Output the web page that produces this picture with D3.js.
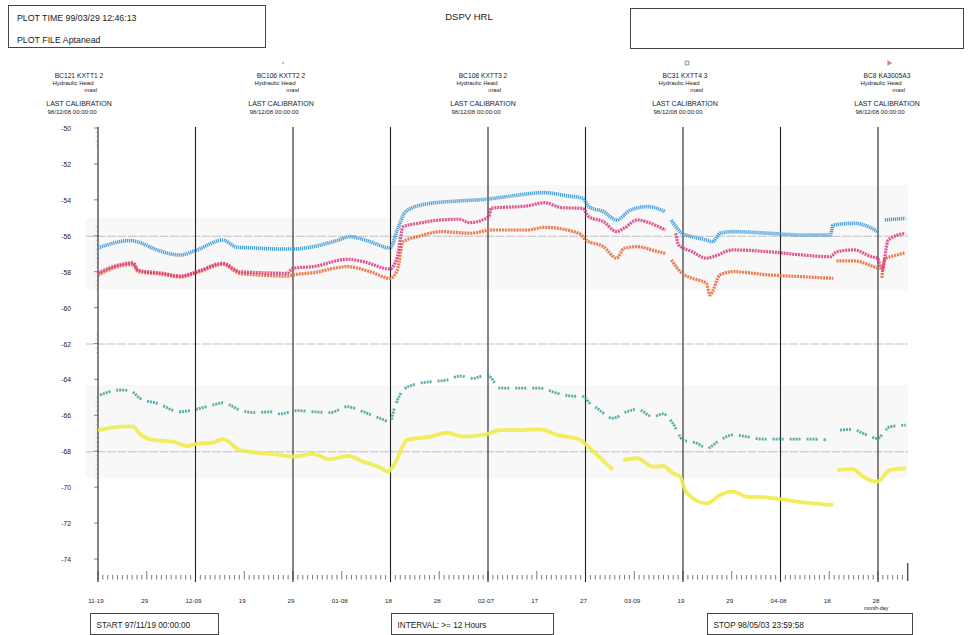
<!DOCTYPE html>
<html>
<head>
<meta charset="utf-8">
<script src="https://cdn.jsdelivr.net/npm/d3@7"></script>
<style>
  body { margin: 0; background: #fff; }
  svg { display: block; font-family: "Liberation Sans", Arial, sans-serif; }
</style>
</head>
<body>
<svg id="chart" width="970" height="635"></svg>
<script>
// ---- Data: hydraulic head (masl), day offsets from 1997-11-19 00:00 UTC ----
const DAY = 86400000;
const startDate = Date.UTC(1997, 10, 19);
const spanDays = 166;

const yTicks = [-50, -52, -54, -56, -58, -60, -62, -64, -66, -68, -70, -72, -74];
const refLevels = [-56, -62, -68];
const xTickDays = [0, 10, 20, 30, 40, 50, 60, 70, 80, 90, 100, 110, 120, 130, 140, 150, 160];
const xTickLabels = ["11-19", "29", "12-09", "19", "29", "01-08", "18", "28", "02-07",
                     "17", "27", "03-09", "19", "29", "04-08", "18", "28"];

const sectionNames = ["BC121 KXTT1 2", "BC106 KXTT2 2", "BC108 KXTT3 2", "BC31 KXTT4 3", "BC8 KA3005A3"];
const calibrationDates = ["98/12/08 00:00:00", "98/12/08 00:00:00", "98/12/08 00:00:00",
                          "98/12/08 00:00:00", "98/12/08 00:00:00"];

const headBlue = [[0,-56.68],[6.6,-56.27],[8,-56.33],[12.1,-56.79],[16.8,-57.07],[20.3,-56.79],
  [25.6,-56.24],[28.5,-56.64],[31.8,-56.68],[37.3,-56.74],[40,-56.74],[44.1,-56.61],[49,-56.27],
  [51.7,-56.05],[55.8,-56.33],[59.9,-56.68],[61.4,-55.68],[63.1,-54.66],[66.9,-54.25],[74.1,-54.06],
  [79.6,-53.97],[84.6,-53.79],[91.6,-53.6],[96.5,-53.79],[99.4,-53.91],[100.7,-54.38],[103.7,-54.66],
  [106.4,-55.12],[109.2,-54.57],[112.8,-54.38],[116.4,-54.66],[117,null],[117.6,-55.12],[119.8,-55.86],
  [121.9,-56.05],[124.8,-56.24],[126.1,-56.33],[127.6,-55.86],[130.3,-55.77],[137.5,-55.86],
  [144.5,-55.96],[150.2,-55.96],[150.8,-55.4],[155.1,-55.31],[158.7,-55.58],[159.9,-55.77],
  [160.4,null],[161.4,-55.12],[165.6,-55.03]];

const headMagenta = [[0,-58.07],[3.1,-57.72],[7.2,-57.5],[8.2,-57.91],[13.3,-58.09],[16.8,-58.24],
  [20.3,-58.0],[25.6,-57.53],[29.1,-58.0],[33.8,-58.06],[38.8,-58.09],[40,-57.81],[44.1,-57.72],
  [51.1,-57.31],[54.4,-57.44],[59.9,-57.85],[61.4,-57.17],[62.6,-55.5],[65.6,-55.31],[70.4,-55.12],
  [74.1,-55.08],[76.2,-55.27],[80.2,-54.94],[80.6,-54.47],[88,-54.34],[91.6,-54.16],[95.2,-54.44],
  [99.4,-54.47],[100.7,-54.94],[103.7,-55.22],[106.4,-55.77],[107.9,-55.58],[110.6,-55.12],
  [113.4,-55.31],[116.4,-55.68],[117.5,null],[118.5,-55.86],[119.1,-56.51],[121.9,-56.89],
  [124.8,-57.25],[126.1,-57.17],[130.3,-56.79],[137.5,-56.89],[144.5,-57.07],[150.2,-57.17],
  [151.5,-56.89],[155.1,-56.79],[158.7,-57.17],[159.9,-57.25],[160.8,-57.91],[162.1,-56.24],
  [165.6,-55.86]];

const headOrange = [[0,-58.2],[3.1,-57.8],[7.2,-57.6],[8.2,-58.0],[13.3,-58.15],[16.8,-58.3],
  [20.3,-58.05],[25.6,-57.6],[29.1,-58.1],[33.8,-58.2],[38.8,-58.25],[40,-58.18],[44.1,-58.06],
  [51.1,-57.72],[55.8,-58.0],[59.9,-58.37],[61.4,-57.91],[62.6,-56.33],[65.6,-56.05],[70.4,-55.77],
  [76.2,-55.86],[81,-55.68],[88,-55.68],[91.6,-55.53],[98.6,-55.86],[100.1,-56.24],[103.7,-56.61],
  [106.4,-57.25],[107.9,-56.7],[110.6,-56.61],[114.9,-56.89],[116.4,-56.98],[117,null],[117.6,-57.35],
  [119.8,-58.09],[121.9,-58.37],[124.8,-58.65],[125.5,-59.3],[127.6,-58.18],[130.3,-58.0],
  [137.5,-58.18],[144.5,-58.28],[150.8,-58.37],[151.1,null],[151.5,-57.4],[155.1,-57.4],
  [158.7,-57.68],[159.9,-57.8],[160.3,null],[160.8,-58.35],[161.4,-57.3],[163.5,-57.1],[165.6,-56.95]];

const headTeal = [[0.4,-64.87],[4.5,-64.59],[6.6,-64.63],[8.6,-65.05],[12.1,-65.33],[16.8,-65.8],
  [19.5,-65.7],[23.6,-65.42],[25.6,-65.3],[29.1,-65.7],[31.8,-65.85],[35.9,-65.8],[37.3,-65.92],
  [40.8,-65.74],[44.1,-65.8],[47.6,-65.85],[51.1,-65.52],[54.4,-65.8],[57.8,-66.16],[59.9,-66.35],
  [60.9,-65.52],[62.6,-64.59],[64.6,-64.31],[68.1,-64.13],[71.6,-64.03],[74.3,-63.81],[76.9,-63.94],
  [79.8,-63.75],[82.5,-64.48],[86.6,-64.49],[90.7,-64.49],[94.2,-64.77],[96.8,-64.92],[99.5,-64.96],
  [100.9,-65.33],[102.4,-65.61],[105.6,-66.16],[108.5,-65.8],[110.6,-65.66],[113.8,-66.07],
  [115.9,-65.92],[117.9,-66.44],[120,-67.37],[122.9,-67.56],[124.9,-67.83],[127.6,-67.37],
  [130.3,-67.09],[133.1,-67.19],[136.4,-67.33],[139.9,-67.33],[146.7,-67.33],[149.5,-67.37],
  [150.5,null],[152.2,-66.82],[154.9,-66.78],[156.9,-67.0],[159.8,-67.28],[162.5,-66.63],[165.7,-66.54]];

const headYellow = [[0,-66.82],[5.1,-66.63],[7.2,-66.63],[8.6,-67.04],[11.3,-67.37],[15.4,-67.47],
  [18.3,-67.71],[20.3,-67.59],[23.6,-67.52],[25.6,-67.33],[29.1,-67.93],[32.6,-68.08],[36.7,-68.17],
  [40,-68.3],[44.1,-68.15],[47.6,-68.45],[51.1,-68.26],[54.4,-68.58],[57.8,-68.89],[59.5,-69.14],
  [60.9,-68.67],[63.4,-67.37],[68.1,-67.19],[71.6,-66.97],[74.9,-67.19],[79.8,-67.04],[82.5,-66.82],
  [86.6,-66.82],[90.7,-66.78],[94.2,-67.09],[98.9,-67.37],[100.9,-67.83],[105.6,-69.04],[106.6,null],
  [107.7,-68.49],[110.6,-68.39],[113.8,-68.86],[115.9,-68.82],[117.9,-69.22],[119.4,-69.41],
  [120.8,-70.34],[124.9,-70.9],[127.6,-70.43],[130.3,-70.25],[133.1,-70.53],[136.4,-70.56],
  [139.9,-70.66],[143.4,-70.8],[146.7,-70.9],[150.8,-70.99],[151.2,null],[151.6,-69.04],
  [154.9,-69.0],[156.9,-69.41],[159.8,-69.69],[162.5,-69.04],[165.7,-68.95]];

// ---- Scales ----
const dateOf = d => new Date(startDate + d * DAY);
const x = d3.scaleUtc().domain([dateOf(0), dateOf(spanDays)]).range([98, 907.25]);
const y = d3.scaleLinear().domain([-50, -74]).range([128, 559]);
const svg = d3.select("#chart");
const ink = "#222";

// ---- Header ----
svg.append("rect").attr("x", 8.5).attr("y", 5.5).attr("width", 257).attr("height", 42)
  .attr("fill", "none").attr("stroke", "#444").attr("stroke-width", 1);
svg.append("text").attr("x", 17).attr("y", 21).attr("font-size", 8.8).attr("fill", ink)
  .text("PLOT TIME  99/03/29 12:46:13");
svg.append("text").attr("x", 17).attr("y", 43).attr("font-size", 8.8).attr("fill", ink)
  .text("PLOT FILE  Aptanead");
svg.append("text").attr("x", 469).attr("y", 20).attr("font-size", 9.5).attr("text-anchor", "middle")
  .attr("fill", ink).text("DSPV HRL");
svg.append("rect").attr("x", 630.5).attr("y", 8.5).attr("width", 333).attr("height", 40)
  .attr("fill", "none").attr("stroke", "#444").attr("stroke-width", 1);

// ---- Section headings ----
const headingSymbols = [d3.symbolPlus, d3.symbolCircle, null, d3.symbolSquare, d3.symbolTriangle];
const headingSymbolColors = ["#e8a0c0", "#bbb", null, "#777", "#e070c0"];
sectionNames.forEach((name, i) => {
  const cx = 79 + i * 202;
  const g = svg.append("g").attr("fill", ink);
  if (headingSymbols[i]) {
    const sym = d3.symbol().type(headingSymbols[i]).size(i === 1 ? 4 : 14);
    g.append("path").attr("d", sym())
      .attr("transform", `translate(${cx + 2},63)` + (i === 4 ? " rotate(90)" : ""))
      .attr("fill", i === 3 ? "none" : headingSymbolColors[i])
      .attr("stroke", i === 3 ? headingSymbolColors[i] : "none").attr("stroke-width", 0.8);
  }
  g.append("text").attr("x", cx).attr("y", 78).attr("font-size", 6.7).attr("text-anchor", "middle").text(name);
  g.append("text").attr("x", cx - 6).attr("y", 85).attr("font-size", 6).attr("text-anchor", "middle").text("Hydraulic Head");
  g.append("text").attr("x", cx + 18).attr("y", 92).attr("font-size", 6).attr("text-anchor", "end").text("masl");
  g.append("text").attr("x", cx).attr("y", 106).attr("font-size", 7).attr("text-anchor", "middle").text("LAST CALIBRATION");
  g.append("text").attr("x", cx - 7).attr("y", 114).attr("font-size", 6.1).attr("text-anchor", "middle").text(calibrationDates[i]);
});

// ---- Faint background bands behind the data groups ----
const bands = svg.append("g").attr("fill", "#f8f8f8");
bands.append("rect").attr("x", 85).attr("y", 218).attr("width", 306).attr("height", 71);
bands.append("rect").attr("x", 391).attr("y", 185).attr("width", 517).attr("height", 105);
bands.append("rect").attr("x", 85).attr("y", 385).attr("width", 823).attr("height", 93);

// ---- Reference levels ----
svg.append("g").selectAll("line").data(refLevels).join("line")
  .attr("x1", 86).attr("x2", 908).attr("y1", d => y(d) + 0.5).attr("y2", d => y(d) + 0.5)
  .attr("stroke", "#a6a6a6").attr("stroke-width", 0.7).attr("stroke-dasharray", "9,1.5");

// ---- Y axis ----
const yAxisG = svg.append("g");
yAxisG.selectAll("text").data(yTicks).join("text")
  .attr("x", 71).attr("y", d => y(d) + 3).attr("font-size", 6.8).attr("text-anchor", "end")
  .attr("fill", ink).text(d => d);
yAxisG.selectAll("line.major").data(yTicks).join("line").attr("class", "major")
  .attr("x1", 94).attr("x2", 98).attr("y1", d => y(d)).attr("y2", d => y(d))
  .attr("stroke", "#555").attr("stroke-width", 0.7);
const minorRanges = [[-50, -51], [-55.5, -59], [-61.5, -62.5], [-65, -69.5]];
const minorTicks = [];
minorRanges.forEach(([a, b]) => { for (let v = a; v >= b - 1e-9; v -= 0.25) minorTicks.push(v); });
yAxisG.selectAll("line.minor").data(minorTicks).join("line").attr("class", "minor")
  .attr("x1", 95.5).attr("x2", 98).attr("y1", d => y(d)).attr("y2", d => y(d))
  .attr("stroke", "#aaa").attr("stroke-width", 0.5);

// ---- X axis: daily ticks, 10-day labels, 20-day grid lines ----
const dayTicks = d3.range(0, spanDays);
svg.append("g").selectAll("line").data(dayTicks).join("line")
  .attr("x1", d => x(dateOf(d))).attr("x2", d => x(dateOf(d)))
  .attr("y1", d => d % 10 === 0 ? 571 : 575).attr("y2", 579.5)
  .attr("stroke", "#444").attr("stroke-width", 0.7);
svg.append("g").selectAll("line").data(xTickDays.filter(d => d % 20 === 0)).join("line")
  .attr("x1", d => x(dateOf(d))).attr("x2", d => x(dateOf(d)))
  .attr("y1", 127).attr("y2", 582)
  .attr("stroke", ink).attr("stroke-width", 1.1);
svg.append("line").attr("x1", x(dateOf(spanDays)) + 0.5).attr("x2", x(dateOf(spanDays)) + 0.5)
  .attr("y1", 563).attr("y2", 581).attr("stroke", ink).attr("stroke-width", 1.1);
svg.append("g").selectAll("text").data(xTickDays).join("text")
  .attr("x", d => x(dateOf(d)) - 2).attr("y", 603).attr("font-size", 6.2)
  .attr("text-anchor", "middle").attr("fill", ink)
  .text((d, i) => xTickLabels[i]);
svg.append("text").attr("x", x(dateOf(160)) - 2).attr("y", 610).attr("font-size", 5.2)
  .attr("text-anchor", "middle").attr("fill", ink).text("month-day");

// ---- Series ----
const line = d3.line()
  .defined(d => d[1] !== null)
  .x(d => x(dateOf(d[0])))
  .y(d => y(d[1]))
  .curve(d3.curveMonotoneX);

const series = [
  { data: headOrange,  color: "#ea6d3e", width: 3.2, dash: "2,0.9", opacity: 0.9 },
  { data: headMagenta, color: "#d82c78", width: 3.2, dash: "2,0.9", opacity: 0.8 },
  { data: headBlue,    color: "#3b98d6", width: 3.6, dash: "1.2,0.8", opacity: 0.95 },
  { data: headYellow,  color: "#efeb4a", width: 3.8, dash: null, opacity: 0.9 },
  { data: headTeal,    color: "#2f9a93", width: 2.8, dash: "2,1,2,1,2,1,2,6", opacity: 0.8 }
];
svg.append("g").selectAll("path").data(series).join("path")
  .attr("d", s => line(s.data))
  .attr("fill", "none")
  .attr("stroke", s => s.color)
  .attr("stroke-width", s => s.width)
  .attr("stroke-dasharray", s => s.dash)
  .attr("stroke-opacity", s => s.opacity);

// ---- Footer boxes ----
const footer = [
  { x: 90.5, w: 128, label: "START  97/11/19 00:00:00" },
  { x: 391.5, w: 162, label: "INTERVAL: >= 12 Hours" },
  { x: 707.5, w: 205, label: "STOP  98/05/03 23:59:58" }
];
const fg = svg.append("g");
fg.selectAll("rect").data(footer).join("rect")
  .attr("x", d => d.x).attr("y", 613.5).attr("width", d => d.w).attr("height", 21)
  .attr("fill", "none").attr("stroke", "#444").attr("stroke-width", 1);
fg.selectAll("text").data(footer).join("text")
  .attr("x", d => d.x + 6).attr("y", 628).attr("font-size", 8.2).attr("fill", ink)
  .text(d => d.label);
</script>
</body>
</html>
